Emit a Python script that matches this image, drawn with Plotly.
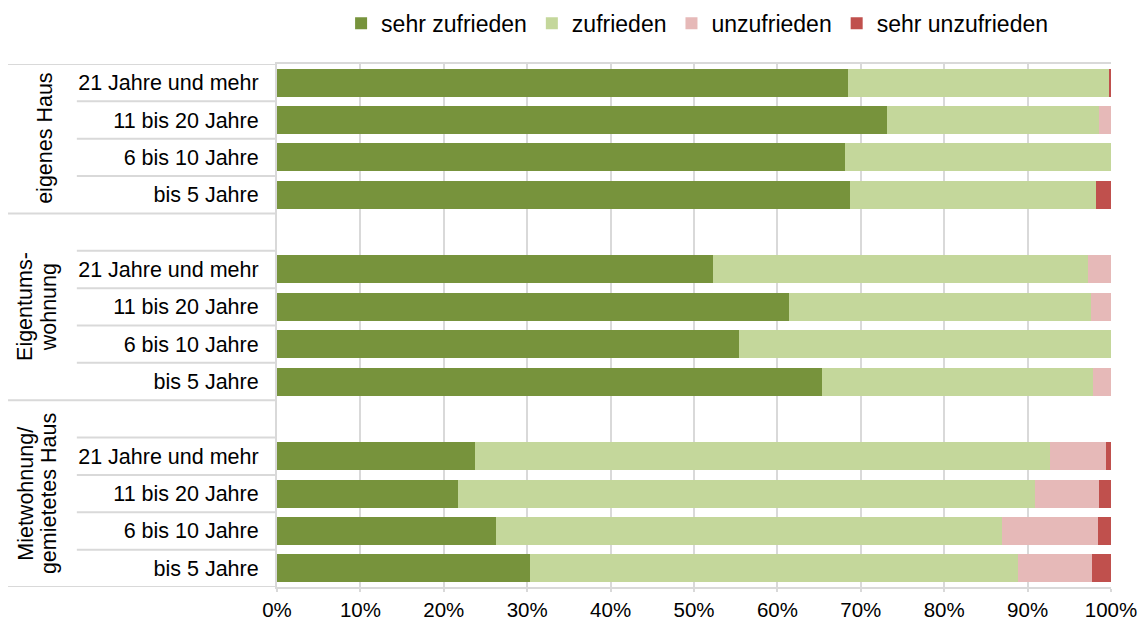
import plotly.graph_objects as go

# --- data (percent) ---
gruppen = [["eigenes Haus"], ["Eigentums-", "wohnung"], ["Mietwohnung/", "gemietetes Haus"]]
kategorien = ["21 Jahre und mehr", "11 bis 20 Jahre", "6 bis 10 Jahre", "bis 5 Jahre"]

sehr_zufrieden = [68.5, 73.2, 68.1, 68.7, 52.3, 61.4, 55.4, 65.4, 23.8, 21.7, 26.3, 30.3]
zufrieden = [31.2, 25.4, 31.9, 29.5, 45.0, 36.2, 44.6, 32.5, 68.9, 69.2, 60.6, 58.5]
unzufrieden = [0.0, 1.4, 0.0, 0.0, 2.7, 2.4, 0.0, 2.1, 6.7, 7.7, 11.5, 8.9]
sehr_unzufrieden = [0.3, 0.0, 0.0, 1.8, 0.0, 0.0, 0.0, 0.0, 0.6, 1.4, 1.6, 2.3]

serien = [
    ("sehr zufrieden", sehr_zufrieden, "#77933C"),
    ("zufrieden", zufrieden, "#C4D79B"),
    ("unzufrieden", unzufrieden, "#E6B9B8"),
    ("sehr unzufrieden", sehr_unzufrieden, "#C0504D"),
]

GRID = "#D9D9D9"
FONT = "Liberation Sans, Arial, sans-serif"

# row positions: 4 bars per group, one empty row between groups
n_kat = len(kategorien)
rows = [g * (n_kat + 1) + k for g in range(len(gruppen)) for k in range(n_kat)]
last_row = rows[-1]
ticktext = kategorien * len(gruppen)

fig = go.Figure()
for name, values, color in serien:
    fig.add_trace(go.Bar(
        x=values,
        y=rows,
        orientation="h",
        name=name,
        width=0.75,
        marker=dict(color=color, line=dict(width=0)),
        hovertemplate="%{x:.1f}%<extra>" + name + "</extra>",
    ))

# separator lines in the label area: long ones between groups, short ones between rows
group_bounds = [-0.5] + [g * (n_kat + 1) - 1.5 for g in range(1, len(gruppen))] + [last_row + 0.5]
shapes = []
for r in range(-1, last_row + 1):
    y = r + 0.5
    shapes.append(dict(
        type="line", xref="paper", yref="y",
        x0=-0.3225 if y in group_bounds else -0.24, x1=0, y0=y, y1=y,
        line=dict(color=GRID, width=2), layer="below",
    ))

# group labels (rotated, one annotation per text line)
annotations = []
for g, lines in enumerate(gruppen):
    y_mid = (group_bounds[g] + group_bounds[g + 1]) / 2
    xs = [-0.278] if len(lines) == 1 else [-0.302, -0.274]
    for line, x in zip(lines, xs):
        annotations.append(dict(
            text=line, xref="paper", yref="y",
            x=x, y=y_mid,
            textangle=-90, showarrow=False,
            xanchor="center", yanchor="middle",
            font=dict(family=FONT, size=21.5, color="#000000"),
        ))

fig.update_layout(
    width=1139,
    height=613,
    barmode="stack",
    plot_bgcolor="#FFFFFF",
    paper_bgcolor="#FFFFFF",
    margin=dict(l=269, r=36, t=56, b=34),
    font=dict(family=FONT, size=21, color="#000000"),
    legend=dict(
        orientation="h",
        xref="container", yref="container",
        x=0.605, y=0.975,
        xanchor="center", yanchor="middle",
        font=dict(family=FONT, size=23),
        itemwidth=30,
        traceorder="normal",
    ),
    xaxis=dict(
        range=[0, 100],
        dtick=10,
        ticksuffix="%",
        showgrid=True,
        gridcolor=GRID,
        gridwidth=2,
        showline=True,
        linecolor=GRID,
        linewidth=2,
        mirror=True,
        ticks="outside",
        ticklen=3,
        tickwidth=2,
        tickcolor=GRID,
        zeroline=False,
        automargin=False,
        tickfont=dict(family=FONT, size=20.5),
    ),
    yaxis=dict(
        range=[last_row + 0.5, -0.5],
        tickvals=rows,
        ticktext=ticktext,
        showgrid=False,
        showline=True,
        linecolor=GRID,
        linewidth=2,
        ticks="",
        ticklabelstandoff=12,
        zeroline=False,
        automargin=False,
        tickfont=dict(family=FONT, size=21.5),
    ),
    shapes=shapes,
    annotations=annotations,
)

fig.write_html("out.html")
